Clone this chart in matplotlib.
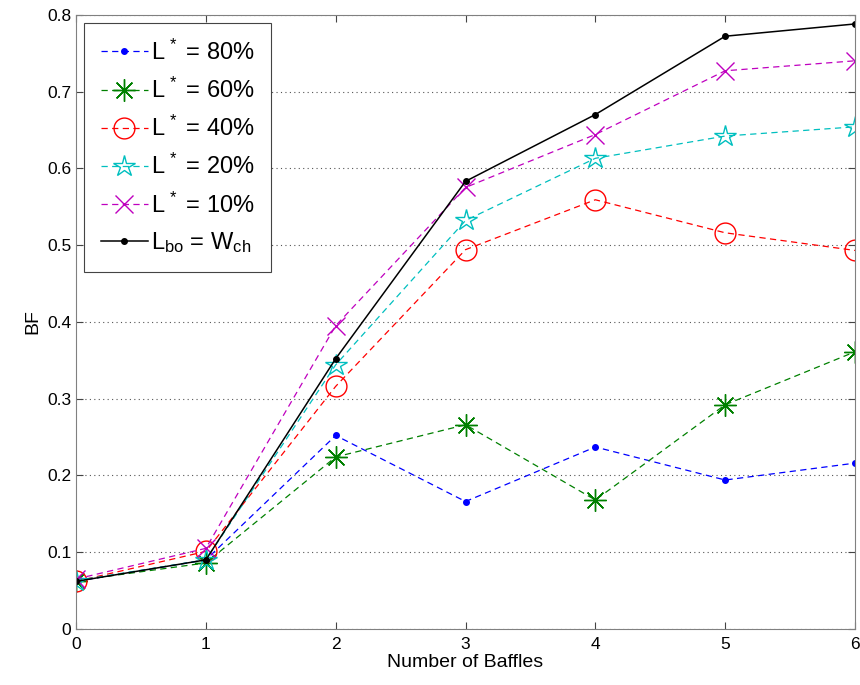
import numpy as np
import matplotlib
matplotlib.use('Agg')
import matplotlib.pyplot as plt

plt.rcParams['font.family'] = ['Liberation Sans', 'DejaVu Sans']
plt.rcParams['mathtext.fontset'] = 'custom'
plt.rcParams['mathtext.rm'] = 'Liberation Sans'
plt.rcParams['mathtext.it'] = 'Liberation Sans'

baffles = [0, 1, 2, 3, 4, 5, 6]
bf_80 = [0.062, 0.090, 0.252, 0.166, 0.237, 0.194, 0.216]
bf_60 = [0.063, 0.086, 0.224, 0.266, 0.168, 0.292, 0.361]
bf_40 = [0.062, 0.101, 0.316, 0.494, 0.559, 0.516, 0.493]
bf_20 = [0.063, 0.090, 0.344, 0.532, 0.613, 0.642, 0.654]
bf_10 = [0.065, 0.105, 0.395, 0.575, 0.644, 0.727, 0.740]
bf_ch = [0.062, 0.090, 0.352, 0.583, 0.670, 0.772, 0.788]

labels = [r'L$^{\,*}$ = 80%', r'L$^{\,*}$ = 60%', r'L$^{\,*}$ = 40%',
          r'L$^{\,*}$ = 20%', r'L$^{\,*}$ = 10%',
          r'L$_{\mathrm{bo}}$ = W$_{\mathrm{ch}}$']

fig = plt.figure(figsize=(8.6, 6.85), dpi=100)
ax = fig.add_axes([0.0884, 0.0818, 0.9058, 0.8967])

dash = (0, (5, 3.5))
lw = 0.9
ax.plot(baffles, bf_80, color='#0000ff', ls=dash, lw=lw, marker='.', ms=8, label=labels[0])
ax.plot(baffles, bf_60, color='#008000', ls=dash, lw=lw, marker=(8, 2, 0), ms=16,
        mew=1.0, label=labels[1])
ax.plot(baffles, bf_40, color='#ff0000', ls=dash, lw=lw, marker='o', ms=15,
        mfc='none', mew=1.0, label=labels[2])
ax.plot(baffles, bf_20, color='#00bfbf', ls=dash, lw=lw, marker='*', ms=16,
        mfc='none', mew=1.0, label=labels[3])
ax.plot(baffles, bf_10, color='#bf00bf', ls=dash, lw=lw, marker='x', ms=13,
        mew=1.0, label=labels[4])
ax.plot(baffles, bf_ch, color='black', ls='-', lw=1.1, marker='.', ms=8, label=labels[5])

ax.set_xlim(0, 6)
ax.set_ylim(0, 0.8)
ax.set_xticks(np.arange(0, 7, 1))
ax.set_yticks(np.arange(0, 0.81, 0.1))
ax.set_yticklabels(['0', '0.1', '0.2', '0.3', '0.4', '0.5', '0.6', '0.7', '0.8'])
ax.yaxis.grid(True, ls=(0, (1, 3)), color='#555555', lw=0.8)
ax.tick_params(direction='in', top=True, right=True, labelsize=12.5, length=5,
               color='#444444')
ax.tick_params(axis='x', pad=6)
for s in ax.spines.values():
    s.set_color('#808080')

ax.set_xlabel('Number of Baffles', fontsize=14, labelpad=1)
ax.set_ylabel('BF', fontsize=14, labelpad=4)

leg = ax.legend(loc='upper left', fontsize=17, fancybox=False, framealpha=1,
                edgecolor='#444444', handlelength=2.0, borderaxespad=0.35,
                labelspacing=0.55, handletextpad=0.12, borderpad=0.7)
leg.get_frame().set_linewidth(0.8)

fig.savefig('out.png', dpi=100)
